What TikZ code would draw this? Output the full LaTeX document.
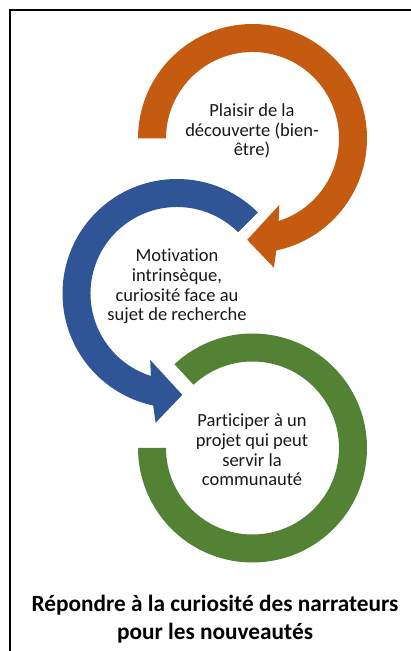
\documentclass[tikz,border=0pt]{standalone}
\usepackage{fontspec}
\setmainfont{Carlito}[Ligatures=NoCommon]
\definecolor{orangeA}{RGB}{197,90,17}
\definecolor{blueA}{RGB}{47,85,151}
\definecolor{greenA}{RGB}{84,130,53}
\begin{document}
\begin{tikzpicture}[x=1pt,y=1pt,
  lbl/.style={align=center, font=\fontsize{18.5}{19.8}\selectfont, inner sep=0pt, text=black!90},
  ttl/.style={align=center, font=\bfseries\fontsize{23.3}{27.5}\selectfont, inner sep=0pt}]
\useasboundingbox (0,0) rectangle (410,651);
\fill[white] (0,0) rectangle (410,651);
% frame (only top and left visible)
\draw[line width=2.2pt] (9.8,-5) -- (9.8,641) -- (415,641);
% orange circular arrow
\begin{scope}[shift={(252.5,512.5)}]
\fill[orangeA] (180:114.5pt) arc[start angle=180,end angle=-78,radius=114.5pt]
  -- (-80.6:131pt) -- (-93:101.5pt) -- (-68:71.6pt) -- (-72.4:86.5pt)
  arc[start angle=-72.4,end angle=180,radius=86.5pt] -- cycle;
\end{scope}
% blue circular arrow
\begin{scope}[shift={(177,357.5)}]
\fill[blueA] (45:114.5pt) arc[start angle=45,end angle=258,radius=114.5pt]
  -- (260.6:131pt) -- (273:101.5pt) -- (248:71.6pt) -- (252.4:86.5pt)
  arc[start angle=252.4,end angle=45,radius=86.5pt] -- cycle;
\end{scope}
% green ring
\begin{scope}[shift={(252.5,203)}]
\fill[greenA] (133:114.5pt) arc[start angle=133,end angle=-180,radius=114.5pt]
  -- (-180:86.5pt) arc[start angle=-180,end angle=133,radius=86.5pt] -- cycle;
\end{scope}
\node[lbl] (t1) at (252,520) {Plaisir de la\\découverte (bien-\\être)};
\node[lbl] (t2) at (177,364.5) {Motivation\\intrinsèque,\\curiosité face au\\sujet de recherche};
\node[lbl] (t3) at (252,201) {Participer à un\\projet qui peut\\servir la\\communauté};
\node[ttl] (title) at (215,32) {Répondre à la curiosité des narrateurs\\pour les nouveautés};
\end{tikzpicture}
\end{document}
